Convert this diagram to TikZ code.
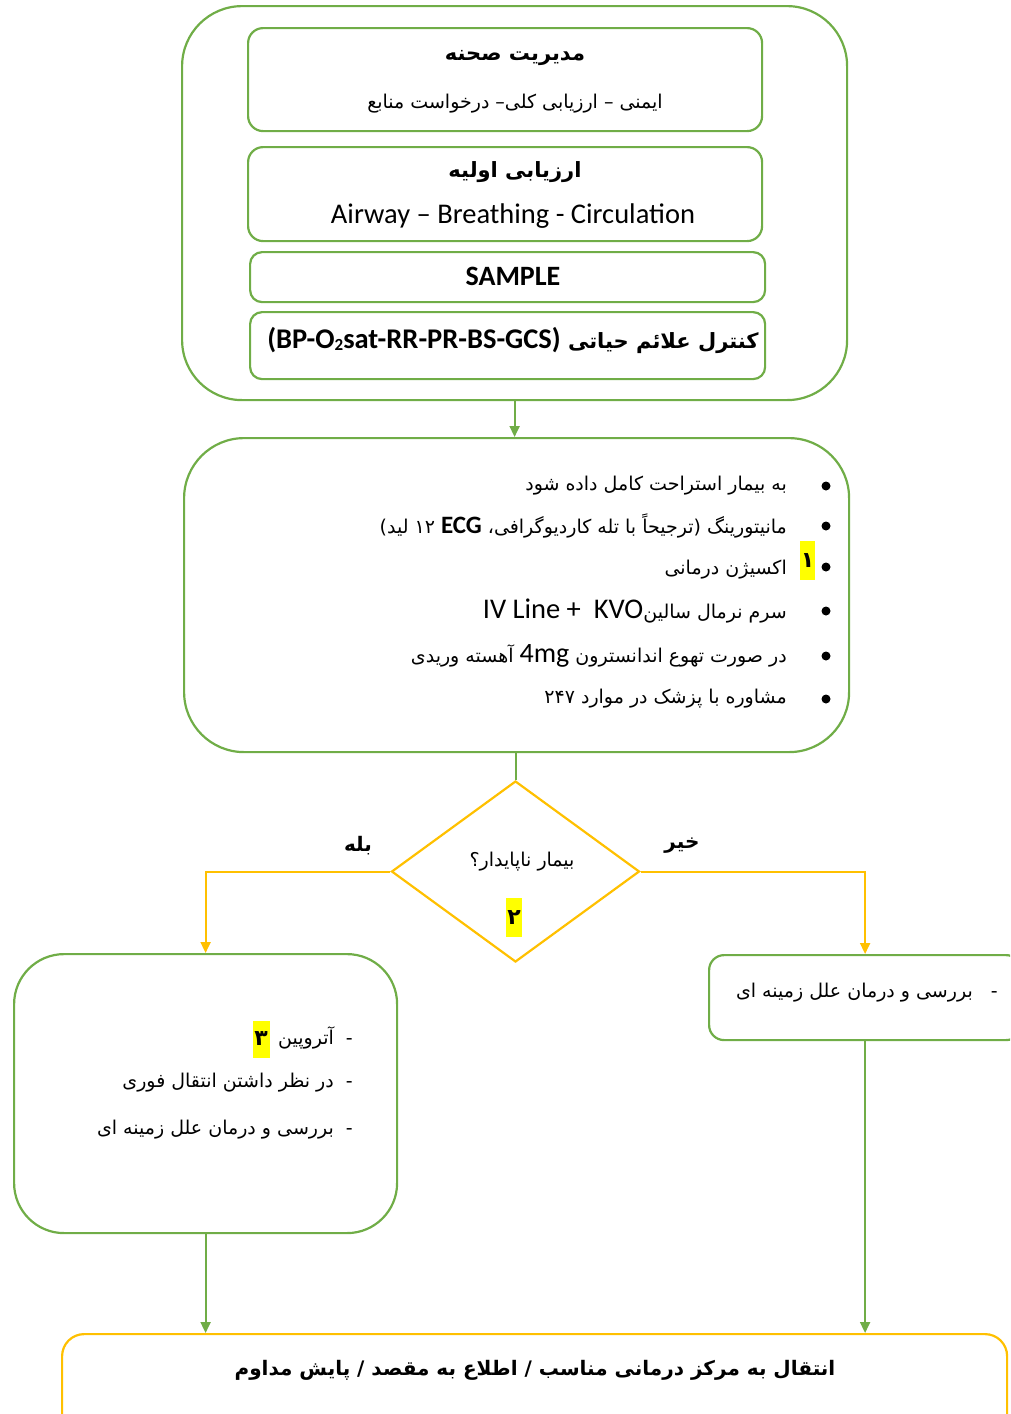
\documentclass[tikz,border=0pt]{standalone}
\usepackage{fontspec}
\setmainfont{Carlito}
\newfontfamily\fa[Script=Arabic]{DejaVu Sans}
\TeXXeTstate=1
\usetikzlibrary{shapes.geometric,arrows.meta}
\definecolor{grn}{HTML}{70AD47}
\definecolor{org}{HTML}{FFC000}
\definecolor{hl}{HTML}{FFFF00}
\newcommand\prs[1]{{\fa\beginR #1\endR}}
\begin{document}
\begin{tikzpicture}[x=1pt,y=-1pt,
  gb/.style={draw=grn, line width=2.2pt, rounded corners=#1, inner sep=0pt, anchor=north west},
  ob/.style={draw=org, line width=2.2pt, rounded corners=#1, inner sep=0pt, anchor=north west},
  ga/.style={draw=grn, line width=2pt, -{Triangle[length=11pt,width=10pt]}},
  gl/.style={draw=grn, line width=2pt},
  oa/.style={draw=org, line width=2pt, -{Triangle[length=11pt,width=10pt]}},
  ft/.style={inner sep=0pt, font=\fa\fontsize{19}{23}\selectfont},
  fb/.style={inner sep=0pt, font=\fa\bfseries\fontsize{20}{24}\selectfont},
  lt/.style={inner sep=0pt, font=\fontsize{28.5}{33}\selectfont},
  hlb/.style={fill=hl, inner sep=0pt, font=\fa\bfseries\fontsize{22}{26}\selectfont},
]
\useasboundingbox (0,0) rectangle (1010,1414);
\clip (0,0) rectangle (1010,1414);
% top group
\node[gb=60, minimum width=665pt, minimum height=394pt] (outer) at (181,5) {};
\node[gb=15, minimum width=514pt, minimum height=103pt] (bA) at (247,27) {};
\node[gb=15, minimum width=514pt, minimum height=94pt] (bB) at (247,146) {};
\node[gb=12, minimum width=515pt, minimum height=50pt] (bC) at (249,251) {};
\node[gb=12, minimum width=515pt, minimum height=67pt] (bD) at (249,311) {};
\node[fb, font=\fa\bfseries\fontsize{21}{25}\selectfont] (tA1) at (515,58) {\prs{مدیریت صحنه}};
\node[ft] (tA2) at (515,104) {\prs{ایمنی – ارزیابی کلی– درخواست منابع}};
\node[fb, font=\fa\bfseries\fontsize{21}{25}\selectfont] (tB1) at (515,172) {\prs{ارزیابی اولیه}};
\node[lt] (tB2) at (513,216) {Airway – Breathing - Circulation};
\node[lt, font=\bfseries\fontsize{28}{33}\selectfont] (tC) at (513,276) {SAMPLE};
\node[fb, font=\fa\bfseries\fontsize{21}{25}\selectfont] (tD) at (513,340) {{\rmfamily\bfseries\fontsize{28.5}{33}\selectfont (BP-O\raisebox{-2pt}{\fontsize{17}{17}\selectfont 2}sat-RR-PR-BS-GCS)}\ \prs{کنترل علائم حیاتی}};
% second box
\node[gb=60, minimum width=665pt, minimum height=314pt] (b2) at (183,437) {};
\draw[ga] (outer.south) -- (outer.south |- b2.north);
\node[ft, anchor=east] (l1) at (787,486) {\prs{به بیمار استراحت کامل داده شود}};
\node[ft, anchor=east] (l2) at (787,526) {{\fa)}\prs{لید}\ {\fa ۱۲}\ {\rmfamily\bfseries\fontsize{25}{30}\selectfont ECG}\ \prs{ترجیحاً با تله کاردیوگرافی،}{\fa(}\ \prs{مانیتورینگ}};
\node[ft, anchor=east] (l3) at (787,570) {\prs{اکسیژن درمانی}};
\node[ft, anchor=east] (l4) at (787,611) {{\rmfamily\fontsize{28.5}{33}\selectfont IV Line +\ \ KVO}\prs{سرم نرمال سالین}};
\node[ft, anchor=east] (l5) at (787,656) {\prs{آهسته وریدی}\ {\rmfamily\fontsize{28}{33}\selectfont 4mg}\ \prs{در صورت تهوع اندانسترون}};
\node[ft, anchor=east] (l6) at (787,699) {\prs{مشاوره با پزشک در موارد ۲۴۷}};
\foreach \yy in {486,526,567,611,656,699} \fill (826,\yy) circle (4.5pt);
\node[hlb, minimum width=15pt, minimum height=39pt] (h1) at (807.5,560.5) {۱};
% decision
\node[draw=org, line width=2.2pt, shape=diamond, minimum width=248pt, minimum height=181pt, inner sep=0pt] (dia) at (515.5,871.5) {};
\draw[gl] (dia.north |- b2.south) -- (dia.north);
\node[ft] (q) at (522,862) {\prs{بیمار ناپایدار؟}};
\node[hlb, minimum width=16pt, minimum height=39pt] (h2) at (514,917.5) {۲};
\node[fb] (yes) at (358,846) {\prs{بله}};
\node[fb] (no) at (682,846) {\prs{خیر}};
% branches
\node[gb=50, minimum width=383pt, minimum height=279pt] (lb) at (13,953) {};
\node[gb=15, minimum width=312pt, minimum height=85pt] (rb) at (708,954) {};
\draw[oa] (dia.west) -| (lb.north);
\draw[oa] (dia.east) -| (rb.north);
\node[ft, anchor=east] (a1) at (353,1038) {\prs{آتروپین}\ \ -};
\node[hlb, minimum width=17pt, minimum height=37pt] (h3) at (261,1039) {۳};
\node[ft, anchor=east] (a2) at (353,1083) {\prs{در نظر داشتن انتقال فوری}\ \ -};
\node[ft, anchor=east] (a3) at (353,1130) {\prs{بررسی و درمان علل زمینه ای}\ \ -};
\node[ft, anchor=east] (r1) at (998,993) {\prs{بررسی و درمان علل زمینه ای}\ \ \ -};
% bottom
\node[ob=22, minimum width=945pt, minimum height=127pt] (bot) at (61,1333) {};
\draw[ga] (lb.south) -- (lb.south |- bot.north);
\draw[ga] (rb.south) -- (rb.south |- bot.north);
\node[fb] (tb) at (535,1370) {\prs{انتقال به مرکز درمانی مناسب / اطلاع به مقصد / پایش مداوم}};
\end{tikzpicture}
\end{document}
